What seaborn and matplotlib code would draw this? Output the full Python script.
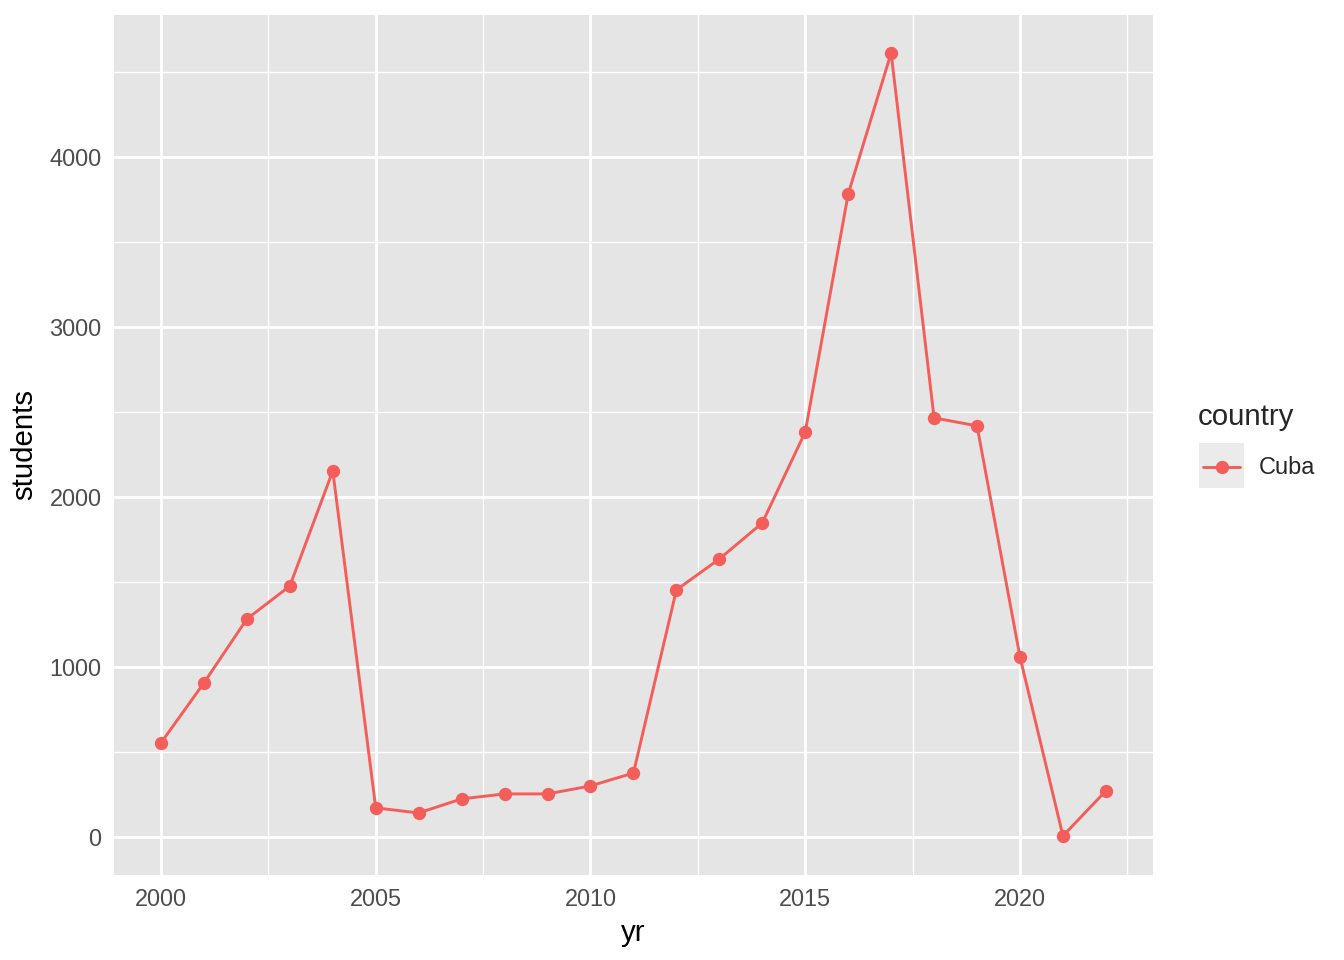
import matplotlib
matplotlib.use("Agg")
import matplotlib.pyplot as plt
from matplotlib.patches import Rectangle
from matplotlib.lines import Line2D
import pandas as pd
import seaborn as sns

# data
years = list(range(2000, 2023))
students = [553, 906, 1282, 1476, 2153, 171, 141, 224, 253, 253, 300, 376,
            1453, 1635, 1847, 2382, 3782, 4612, 2465, 2418, 1059, 6, 271]
country = ["Cuba"] * len(years)

df = pd.DataFrame({"yr": years, "students": students, "country": country})

line_col = "#F35E5A"

sns.set_theme(style="darkgrid")
plt.rcParams["font.family"] = ["Liberation Sans", "DejaVu Sans"]

fig = plt.figure(figsize=(7, 5), dpi=192)
ax = fig.add_axes([114 / 1344, 1 - 875 / 960, (1153 - 114) / 1344, (875 - 15) / 960])
ax.set_facecolor("#E5E5E5")

sns.lineplot(data=df, x="yr", y="students", hue="country",
             palette=[line_col], marker="o", markersize=5,
             markeredgewidth=0, linewidth=1.1, legend=False, ax=ax)

ax.set_xlim(1998.906, 2023.097)
ax.set_ylim(-224, 4835)
ax.set_xticks([2000, 2005, 2010, 2015, 2020])
ax.set_yticks([0, 1000, 2000, 3000, 4000])
ax.set_xticks([2002.5, 2007.5, 2012.5, 2017.5, 2022.5], minor=True)
ax.set_yticks([500, 1500, 2500, 3500, 4500], minor=True)
ax.grid(which="major", color="white", linewidth=1.05)
ax.grid(which="minor", color="white", linewidth=0.5)
for s in ax.spines.values():
    s.set_visible(False)

ax.tick_params(axis="both", which="major", length=2.7, width=0.5,
               color="#333333", labelcolor="#4D4D4D", labelsize=8.8, pad=2)
ax.tick_params(axis="both", which="minor", length=0)
ax.set_xlabel("yr", fontsize=11, color="black", labelpad=3)
ax.set_ylabel("students", fontsize=11, color="black", labelpad=4)

# legend drawn by hand in ggplot style
fig.text(1198 / 1344, 1 - 417 / 960, "country", fontsize=11, va="center", ha="left")
fig.patches.append(Rectangle((1199 / 1344, 1 - 488 / 960), 45 / 1344, 45 / 960,
                             transform=fig.transFigure, facecolor="#EBEBEB",
                             edgecolor="none"))
fig.lines.append(Line2D([1203 / 1344, 1240 / 1344], [1 - 467 / 960] * 2,
                        transform=fig.transFigure, color=line_col, linewidth=1.1))
fig.lines.append(Line2D([1221.5 / 1344], [1 - 467 / 960], transform=fig.transFigure,
                        color=line_col, marker="o", markersize=5,
                        markeredgewidth=0, linestyle="none"))
fig.text(1259 / 1344, 1 - 467 / 960, "Cuba", fontsize=8.8, va="center", ha="left")

fig.savefig("out.png", dpi=192)
